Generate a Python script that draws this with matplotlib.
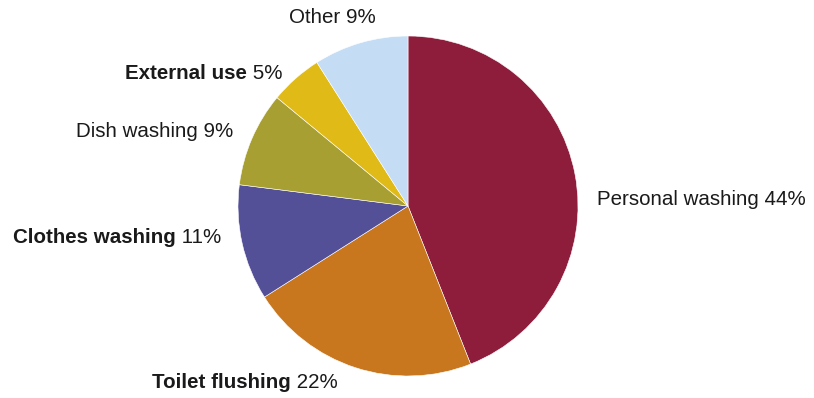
import matplotlib
matplotlib.use("Agg")
import matplotlib.pyplot as plt

# Household water use breakdown
categories = ["Personal washing", "Toilet flushing", "Clothes washing",
              "Dish washing", "External use", "Other"]
shares = [44, 22, 11, 9, 5, 9]
bold_name = [False, True, True, False, True, False]
colors = ["#8E1D3C", "#C8771F", "#545098", "#A89F32", "#E0BB18", "#C4DDF4"]

# label anchors (left edge, vertical centre) in pie-radius units
label_pos = [(1.112, 0.041), (-1.506, -1.041), (-2.324, -0.188),
             (-1.953, 0.441), (-1.665, 0.782), (-0.700, 1.106)]

plt.rcParams['font.family'] = ['Liberation Sans', 'DejaVu Sans']
W, H = 814, 398
fig = plt.figure(figsize=(W / 100, H / 100), dpi=100)
cx, cy, r = 408, 206, 170
ax = fig.add_axes([(cx - r) / W, (H - cy - r) / H, 2 * r / W, 2 * r / H])

ax.pie(shares, colors=colors, startangle=90, counterclock=False, radius=1,
       wedgeprops=dict(edgecolor='white', linewidth=0.4))
ax.set_xlim(-1, 1)
ax.set_ylim(-1, 1)
ax.set_aspect('equal')
ax.axis('off')

fs = 14.8
txt_color = "#1a1a1a"
for name, val, bold, (x, y) in zip(categories, shares, bold_name, label_pos):
    pct = f"{val}%"
    if bold:
        t = ax.text(x, y, name, ha='left', va='center', fontsize=fs,
                    fontweight='bold', color=txt_color, clip_on=False)
        ax.annotate(" " + pct, xy=(1, 0.5), xycoords=t, ha='left', va='center',
                    fontsize=fs, color=txt_color, annotation_clip=False)
    else:
        ax.text(x, y, f"{name} {pct}", ha='left', va='center', fontsize=fs,
                color=txt_color, clip_on=False)

fig.savefig("out.png", dpi=100)
